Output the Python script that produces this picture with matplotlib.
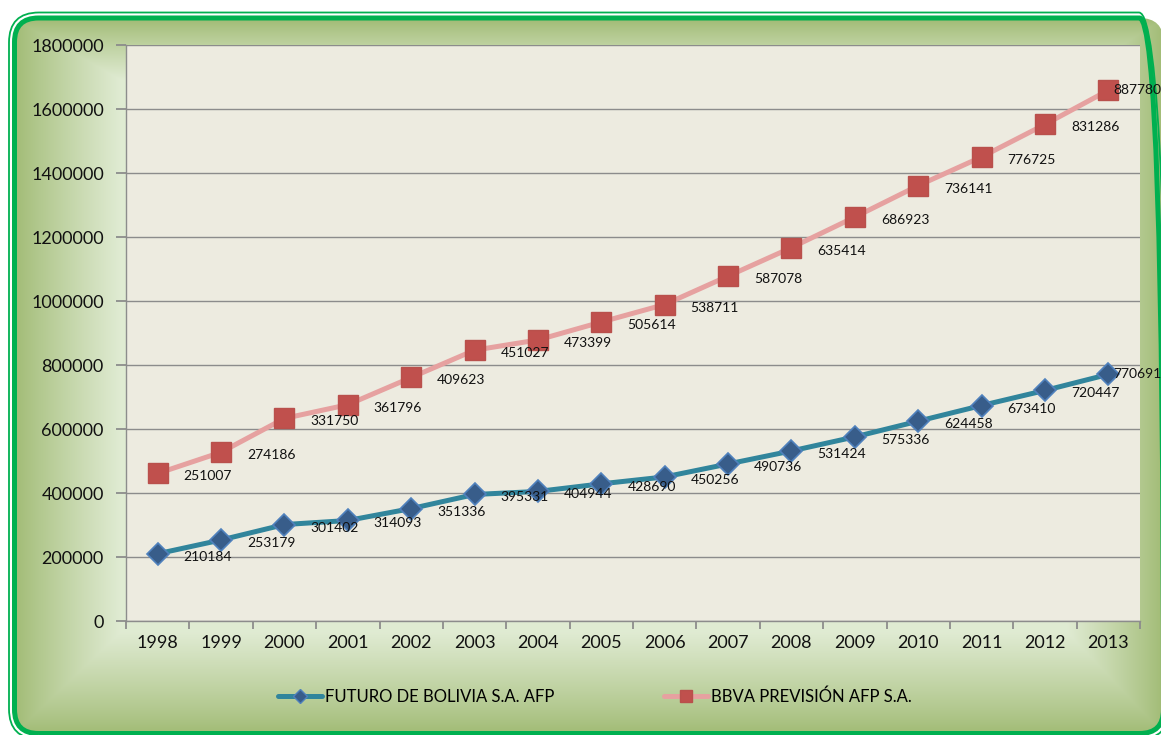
import numpy as np
import matplotlib
matplotlib.use("Agg")
import matplotlib.pyplot as plt
from matplotlib.patches import FancyBboxPatch
from matplotlib.lines import Line2D

plt.rcParams['font.family'] = ['Lato', 'DejaVu Sans']

years = ['1998', '1999', '2000', '2001', '2002', '2003', '2004', '2005',
         '2006', '2007', '2008', '2009', '2010', '2011', '2012', '2013']
futuro = [210184, 253179, 301402, 314093, 351336, 395331, 404944, 428690,
          450256, 490736, 531424, 575336, 624458, 673410, 720447, 770691]
bbva = [251007, 274186, 331750, 361796, 409623, 451027, 473399, 505614,
        538711, 587078, 635414, 686923, 736141, 776725, 831286, 887780]
series_names = ['FUTURO DE BOLIVIA S.A. AFP', 'BBVA PREVISIÓN AFP S.A.']
yticks = [0, 200000, 400000, 600000, 800000, 1000000, 1200000, 1400000, 1600000, 1800000]

W, H = 1161, 735
fig = plt.figure(figsize=(W / 100, H / 100), dpi=100)
fig.patch.set_facecolor('white')

# background frame with gradient (pixel coords, y measured from the bottom)
bg = fig.add_axes([0, 0, 1, 1], zorder=0)
bg.set_xlim(0, W)
bg.set_ylim(0, H)
bg.axis('off')

px = 0.72  # points per pixel


def rbox(left, top, right, bottom, r, **kw):
    return FancyBboxPatch((left, H - bottom), right - left, bottom - top,
                          boxstyle='round,pad=0,rounding_size=%d' % r, **kw)


bg.add_patch(rbox(9, 12.5, 1169, 739, 30, fc='none', ec='#00B050',
                  lw=1.8 * px, zorder=3))
bg.add_patch(rbox(14.5, 18, 1163.5, 733.5, 24, fc='none', ec='#00B050',
                  lw=5 * px, zorder=3))

xx, yy = np.meshgrid(np.arange(W) + 0.5, np.arange(H) + 0.5)
t = np.minimum.reduce([(xx - 16) / 105, (1162 - xx) / 95,
                       (yy - 20) / 60, (732 - yy) / 100])
t = np.clip(t, 0, 1) ** 0.9
dark = np.array([0.635, 0.737, 0.463])
light = np.array([0.878, 0.922, 0.827])
img = dark + (light - dark) * t[..., None]
im = bg.imshow(img, extent=(0, W, 0, H), origin='upper', zorder=1,
               interpolation='bilinear')
clip = rbox(14.5, 18, 1163.5, 733.5, 24, fc='none', ec='none')
bg.add_patch(clip)
im.set_clip_path(clip)

# plot area
L, R, T, B = 126, 1140, 45, 621
ax = fig.add_axes([L / W, 1 - B / H, (R - L) / W, (B - T) / H], zorder=2)
ax.set_facecolor('#EDEBE0')

x = np.arange(len(years))
stacked = np.array(futuro) + np.array(bbva)

ax.plot(x, futuro, color='#31859C', lw=5 * px, marker='D', ms=11,
        mfc='#385D8A', mec='#4F81BD', mew=1.2, zorder=4, solid_capstyle='round')
ax.plot(x, stacked, color='#E6A1A0', lw=5 * px, marker='s', ms=14,
        mfc='#C0504D', mec='#B9504C', mew=1, zorder=4, solid_capstyle='round')

for i in range(len(years)):
    if i == len(years) - 1:
        off = (5, 0)
    else:
        off = (26, -3)
    ax.annotate(str(futuro[i]), (x[i], futuro[i]), xytext=off,
                textcoords='offset pixels', ha='left', va='center',
                fontsize=10, color='#111111', zorder=5, annotation_clip=False)
    ax.annotate(str(bbva[i]), (x[i], stacked[i]), xytext=off,
                textcoords='offset pixels', ha='left', va='center',
                fontsize=10, color='#111111', zorder=5, annotation_clip=False)

ax.set_xlim(-0.5, len(years) - 0.5)
ax.set_ylim(0, 1800000)
ax.set_yticks(yticks)
ax.set_yticklabels([str(v) for v in yticks])
ax.set_xticks(x)
ax.set_xticklabels(years)
ax.set_xticks(np.arange(len(years) + 1) - 0.5, minor=True)
ax.tick_params(axis='x', which='major', length=0, pad=10, labelsize=13, colors='#111111')
ax.tick_params(axis='x', which='minor', length=6, width=1.3, color='#8C8C8C', direction='out')
ax.tick_params(axis='y', length=7, width=1.3, color='#8C8C8C', pad=9, labelsize=13,
               labelcolor='#111111')
ax.grid(axis='y', color='#8C8C8C', lw=1.4 * px, zorder=1)
ax.set_axisbelow(True)
for s in ['top', 'right']:
    ax.spines[s].set_visible(False)
for s in ['left', 'bottom']:
    ax.spines[s].set_color('#8C8C8C')
    ax.spines[s].set_linewidth(1.4 * px)

handles = [
    Line2D([], [], color='#31859C', lw=5 * px, marker='D', ms=7,
           mfc='#385D8A', mec='#4F81BD', solid_capstyle='round'),
    Line2D([], [], color='#E6A1A0', lw=5 * px, marker='s', ms=9,
           mfc='#C0504D', mec='#B9504C', solid_capstyle='round'),
]
fig.legend(handles, series_names, loc='center', bbox_to_anchor=(595 / W, 1 - 697 / H),
           ncol=2, frameon=False, fontsize=12, handlelength=2.6, handletextpad=0.2,
           columnspacing=6.6)

fig.savefig('out.png', dpi=100)
